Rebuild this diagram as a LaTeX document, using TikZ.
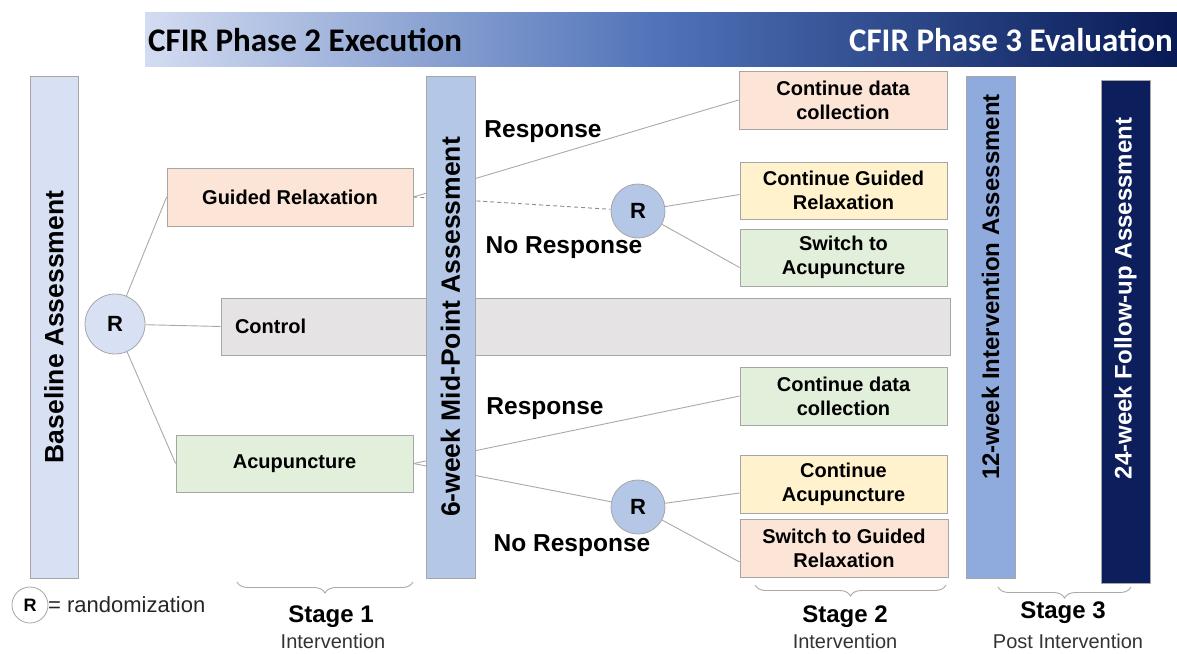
\documentclass[tikz,border=0pt]{standalone}
\usepackage{fontspec}
\setmainfont{Liberation Sans}
\newfontfamily\bannerfont{Carlito}
\usetikzlibrary{decorations.pathreplacing}
\pgfdeclarelayer{background}
\pgfsetlayers{background,main}

\definecolor{orangefill}{HTML}{FCE4D6}
\definecolor{yellowfill}{HTML}{FFF2CC}
\definecolor{greenfill}{HTML}{E2EFDA}
\definecolor{ctrlfill}{HTML}{E6E3E5}
\definecolor{basefill}{HTML}{D8E1F3}
\definecolor{midfill}{HTML}{B4C7E7}
\definecolor{wkfill}{HTML}{8FAADC}
\definecolor{navy}{HTML}{0C1E5B}
\definecolor{boxline}{HTML}{A6A6A6}
\definecolor{linegray}{HTML}{A9A9A9}
\definecolor{bannerleft}{HTML}{D3DCF1}
\definecolor{bannermid}{HTML}{4F72B8}
\definecolor{bannerright}{HTML}{081A55}

\tikzset{
  box/.style={draw=boxline, line width=0.8pt, inner sep=0pt, align=center,
    font=\fontsize{20}{24}\selectfont\bfseries},
  bar/.style={draw=boxline, line width=0.8pt, rotate=90, inner sep=0pt,
    minimum width=502pt, minimum height=49pt},
  bartext/.style={rotate=90, inner sep=0pt, font=\fontsize{26.5}{30}\selectfont\bfseries},
  rnode/.style={circle, draw=boxline, line width=0.8pt, inner sep=0pt,
    font=\fontsize{22}{22}\selectfont\bfseries},
  resp/.style={inner sep=0pt, font=\fontsize{24.5}{28}\selectfont\bfseries},
  link/.style={draw=linegray, line width=0.9pt},
  brace/.style={draw=linegray, line width=0.9pt, decorate,
    decoration={brace, mirror, amplitude=11pt}},
  stage/.style={inner sep=0pt, font=\fontsize{24}{28}\selectfont\bfseries},
  stagesub/.style={inner sep=0pt, text=black!80, font=\fontsize{20}{24}\selectfont},
}

\begin{document}
\begin{tikzpicture}[x=1pt, y=-1pt]

  \useasboundingbox (0,0) rectangle (1177,653);

  \fill[left color=bannerleft, right color=bannerright, middle color=bannermid]
    (145,12) rectangle (1177,66);
  \node (ph2) [anchor=west, inner sep=0pt, font=\bannerfont\fontsize{33}{36}\selectfont\bfseries]
    at (148,40) {CFIR Phase 2 Execution};
  \node (ph3) [anchor=east, inner sep=0pt, text=white, font=\bannerfont\fontsize{33}{36}\selectfont\bfseries]
    at (1173,40) {CFIR Phase 3 Evaluation};

  \begin{scope}[every node/.append style={box}]
    \node (gr)   [fill=orangefill, minimum width=246pt, minimum height=58pt] at (290,197) {Guided Relaxation};
    \node (ctrl) [fill=ctrlfill, minimum width=729pt, minimum height=57pt, inner xsep=14pt,
                  text width=701pt, align=left] at (585.5,326.5) {Control};
    \node (acu)  [fill=greenfill, minimum width=237pt, minimum height=57pt] at (294.5,463.5) {Acupuncture};
    \node (cdc1) [fill=orangefill, minimum width=208pt, minimum height=58pt] at (843,100) {Continue data\\collection};
    \node (cgr)  [fill=yellowfill, minimum width=207pt, minimum height=57pt] at (843.5,190.5) {Continue Guided\\Relaxation};
    \node (sta)  [fill=greenfill, minimum width=207pt, minimum height=57pt] at (843.5,257.5) {Switch to\\Acupuncture};
    \node (cdc2) [fill=greenfill, minimum width=207pt, minimum height=58pt] at (843.5,396) {Continue data\\collection};
    \node (ca)   [fill=yellowfill, minimum width=207pt, minimum height=58pt] at (843.5,484) {Continue\\Acupuncture};
    \node (sgr)  [fill=orangefill, minimum width=208pt, minimum height=58pt] at (844,548) {Switch to Guided\\Relaxation};
  \end{scope}

  \node (base) [bar, fill=basefill, minimum height=48pt] at (54,327) {};
  \node (mid)  [bar, fill=midfill] at (450.5,327) {};
  \node (wk12) [bar, fill=wkfill] at (990.5,327) {};
  \node (wk24) [bar, fill=navy, minimum width=503pt] at (1125.5,331.5) {};

  \node (basetxt) [bartext] at (base.center) {Baseline Assessment};
  \node (midtxt)  [bartext] at (mid.center) {6-week Mid-Point Assessment};
  \node (wk12txt) [bartext, font=\fontsize{24}{28}\selectfont\bfseries] at ([yshift=40pt]wk12.center)
    {12-week Intervention Assessment};
  \node (wk24txt) [bartext, text=white, font=\fontsize{24}{28}\selectfont\bfseries] at ([yshift=33pt]wk24.center)
    {24-week Follow-up Assessment};

  \node (r0) [rnode, fill=basefill, minimum size=60pt] at (115,324) {R};
  \node (r1) [rnode, fill=midfill, minimum size=54pt] at (638,211) {R};
  \node (r2) [rnode, fill=midfill, minimum size=54pt] at (638,507) {R};

  \node (resp1)   [resp] at (543,132) {Response};
  \node (noresp1) [resp] at (564,248) {No Response};
  \node (resp2)   [resp] at (545,409) {Response};
  \node (noresp2) [resp] at (572,546) {No Response};

  \begin{pgfonlayer}{background}
    \path[link] (r0) edge (gr.west)
                (r0) edge (ctrl.west)
                (r0) edge (acu.west);
    \path[link] (gr.east) edge (cdc1.west)
                (gr.east) edge[dash pattern=on 4pt off 3pt, draw=black!45] (r1);
    \path[link] (acu.east) edge (cdc2.west)
                (acu.east) edge (r2);
    \path[link] (r1) edge ([yshift=-4pt]cgr.west)
                (r1) edge ([yshift=-10pt]sta.west);
    \path[link] (r2) edge ([yshift=-9pt]ca.west)
                (r2) edge ([yshift=-14pt]sgr.west);
  \end{pgfonlayer}

  \coordinate (b1l) at (237,582);
  \coordinate (b1r) at (413,582);
  \coordinate (b2l) at (755,585);
  \coordinate (b2r) at (946,585);
  \coordinate (b3l) at (998,587);
  \coordinate (b3r) at (1131,587);
  \draw[brace] (b1l) -- (b1r);
  \draw[brace] (b2l) -- (b2r);
  \draw[brace] (b3l) -- (b3r);

  \node (st1)  [stage]    at (331,617) {Stage 1};
  \node (st1s) [stagesub] at (333,641) {Intervention};
  \node (st2)  [stage]    at (845,617) {Stage 2};
  \node (st2s) [stagesub] at (845,641) {Intervention};
  \node (st3)  [stage]    at (1063,613) {Stage 3};
  \node (st3s) [stagesub] at (1068,641) {Post Intervention};

  \node (rl) [rnode, fill=white, minimum size=36pt, font=\fontsize{18}{18}\selectfont\bfseries] at (30,605) {R};
  \node (rltxt) [anchor=west, inner sep=0pt, text=black!85, font=\fontsize{22}{26}\selectfont]
    at (48,605) {= randomization};

\end{tikzpicture}
\end{document}
